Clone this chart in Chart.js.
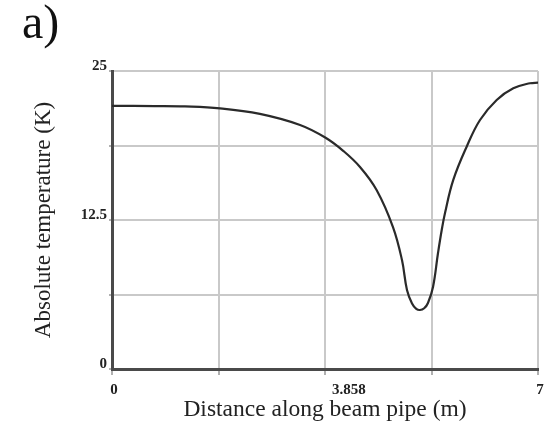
<!DOCTYPE html>
<html>
<head>
<meta charset="utf-8">
<script src="https://cdn.jsdelivr.net/npm/chart.js@4.4.1/dist/chart.umd.min.js"></script>
<style>
  html, body { margin: 0; padding: 0; background: #fff; }
  #wrap { width: 556px; height: 430px; position: relative; }
</style>
</head>
<body>
<div id="wrap"><canvas id="c" width="556" height="430"></canvas></div>
<script>
// Temperature profile along the beam pipe
const distance = [0, 0.7, 1.2, 1.775, 2.43, 3.09, 3.51, 3.8, 4.075, 4.35, 4.617, 4.765, 4.847, 4.93, 5.0, 5.06, 5.13, 5.192, 5.275, 5.357, 5.418, 5.472, 5.608, 5.828, 6.047, 6.321, 6.594, 6.868, 7.0];
const temperature = [22.07, 22.06, 22.03, 21.87, 21.40, 20.47, 19.40, 18.30, 16.95, 15.0, 11.91, 9.14, 6.63, 5.5, 5.05, 4.95, 5.1, 5.54, 6.88, 9.73, 11.66, 13.09, 15.86, 18.65, 20.89, 22.57, 23.55, 23.97, 24.02];

// Grid positions and the values that carry a label
const xGrid = [0, 1.75, 3.5, 5.25, 7];
const xLabelled = [0, 3.858, 7];
const yGrid = [0, 6.25, 12.5, 18.75, 25];
const yLabelled = [0, 12.5, 25];

const panelLetter = 'a)';
const xTitle = 'Distance along beam pipe (m)';
const yTitle = 'Absolute temperature (K)';

const serif = '"Liberation Serif", "Times New Roman", serif';

const points = distance.map((d, i) => ({ x: d, y: temperature[i] }));

const panelLabel = {
  id: 'panelLabel',
  afterDraw(chart) {
    const ctx = chart.ctx;
    ctx.save();
    ctx.fillStyle = '#111';
    ctx.font = '48px ' + serif;
    ctx.textBaseline = 'alphabetic';
    ctx.textAlign = 'left';
    ctx.fillText(panelLetter, 22, 38);
    ctx.restore();
  }
};

const isGridX = v => xGrid.some(g => Math.abs(g - v) < 1e-9);
const isGridY = v => yGrid.some(g => Math.abs(g - v) < 1e-9);

new Chart(document.getElementById('c'), {
  type: 'line',
  data: {
    datasets: [{
      data: points,
      borderColor: '#2a2a2a',
      borderWidth: 2.2,
      pointRadius: 0,
      fill: false,
      tension: 0.4
    }]
  },
  options: {
    responsive: false,
    animation: false,
    devicePixelRatio: 1,
    layout: { padding: { top: 71, right: 18, left: 0, bottom: 0 } },
    plugins: { legend: { display: false }, tooltip: { enabled: false }, title: { display: false } },
    scales: {
      x: {
        type: 'linear',
        min: 0,
        max: 7,
        afterBuildTicks(scale) {
          const vals = Array.from(new Set(xGrid.concat(xLabelled))).sort((a, b) => a - b);
          scale.ticks = vals.map(v => ({ value: v }));
        },
        afterFit(scale) { scale.height = 61; },
        grid: {
          color: ctx => (ctx.tick && isGridX(ctx.tick.value)) ? '#c9c9c9' : 'rgba(0,0,0,0)',
          tickColor: ctx => (ctx.tick && isGridX(ctx.tick.value)) ? '#b0b0b0' : 'rgba(0,0,0,0)',
          lineWidth: 2,
          tickLength: 6
        },
        border: { color: '#4a4a4a', width: 3 },
        ticks: {
          autoSkip: false,
          maxRotation: 0,
          padding: 6,
          labelOffset: 2,
          color: '#222',
          font: { family: serif, size: 15, weight: 'bold' },
          callback: v => xLabelled.some(l => Math.abs(l - v) < 1e-9) ? String(v) : ''
        },
        title: {
          display: true,
          text: xTitle,
          color: '#222',
          font: { family: serif, size: 23.5 },
          padding: { top: 0, bottom: 6 }
        }
      },
      y: {
        type: 'linear',
        min: 0,
        max: 25,
        afterBuildTicks(scale) {
          scale.ticks = yGrid.map(v => ({ value: v }));
        },
        afterFit(scale) { scale.width = 112; },
        grid: {
          color: ctx => (ctx.tick && isGridY(ctx.tick.value)) ? '#c9c9c9' : 'rgba(0,0,0,0)',
          tickColor: '#b0b0b0',
          lineWidth: 2,
          tickLength: 3
        },
        border: { color: '#4a4a4a', width: 3 },
        ticks: {
          autoSkip: false,
          padding: 2,
          labelOffset: -5,
          color: '#222',
          font: { family: serif, size: 15, weight: 'bold' },
          callback: v => yLabelled.some(l => Math.abs(l - v) < 1e-9) ? String(v) : ''
        },
        title: {
          display: true,
          text: yTitle,
          color: '#222',
          font: { family: serif, size: 23 },
          padding: { top: 30, bottom: 0 }
        }
      }
    }
  },
  plugins: [panelLabel]
});
</script>
</body>
</html>
